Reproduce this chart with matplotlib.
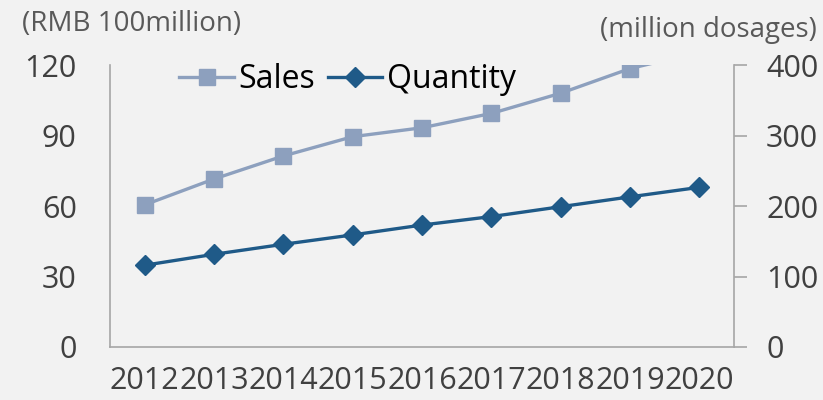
import matplotlib.pyplot as plt

years = ['2012', '2013', '2014', '2015', '2016', '2017', '2018', '2019', '2020']
sales = [60.5, 71.5, 81.3, 89.5, 93.3, 99.4, 108, 118.5, 125.5]    # RMB 100million, left axis
quantity = [116, 131.5, 145.7, 159, 173, 185, 199, 213, 226.5]   # million dosages, right axis

plt.rcParams['font.family'] = ['Open Sans', 'DejaVu Sans']
bg = '#f2f2f2'
spine_c = '#a6a6a6'
txt_c = '#404040'

fig = plt.figure(figsize=(8.23, 4.0), dpi=100, facecolor=bg)
ax = fig.add_axes([0.1337, 0.1325, 0.7583, 0.705])
ax.set_facecolor(bg)
ax2 = ax.twinx()
ax2.set_facecolor('none')

x = list(range(len(years)))
l1, = ax.plot(x, sales, color='#8da0be', lw=2.4, marker='s', ms=11, label='Sales')
l2, = ax2.plot(x, quantity, color='#1f5a88', lw=2.4, marker='D', ms=10, label='Quantity')

ax.set_xlim(-0.5, 8.5)
ax.set_ylim(0, 120)
ax.set_yticks([0, 30, 60, 90, 120])
ax2.set_ylim(0, 400)
ax2.set_yticks([0, 100, 200, 300, 400])
ax.set_xticks(x)
ax.set_xticklabels(years)

for a in (ax, ax2):
    a.spines['top'].set_visible(False)
    for s in ('left', 'right', 'bottom'):
        a.spines[s].set_color(spine_c)
        a.spines[s].set_linewidth(1.2)
ax.spines['right'].set_visible(False)
ax2.spines['left'].set_visible(False)
ax2.spines['bottom'].set_visible(False)

ax.tick_params(axis='y', length=0, pad=24, labelsize=22, labelcolor=txt_c)
ax.tick_params(axis='x', length=0, pad=14, labelsize=22, labelcolor=txt_c)
ax2.tick_params(axis='y', length=9, width=1.2, color=spine_c, pad=14, labelsize=22, labelcolor=txt_c)

fig.text(22 / 823, 1 - 24 / 400, '(RMB 100million)', fontsize=20, color='#595959', va='center', ha='left')
fig.text(817 / 823, 1 - 30 / 400, '(million dosages)', fontsize=20, color='#595959', va='center', ha='right')

leg = ax2.legend(handles=[l1, l2], ncol=2, loc='center', bbox_to_anchor=(0.381, 0.947),
                 fontsize=23, frameon=True, facecolor=bg, edgecolor='none', framealpha=1,
                 handlelength=1.7, handletextpad=0.15, columnspacing=0.4, borderpad=0.1)

fig.savefig('out.png', dpi=100, facecolor=bg)
